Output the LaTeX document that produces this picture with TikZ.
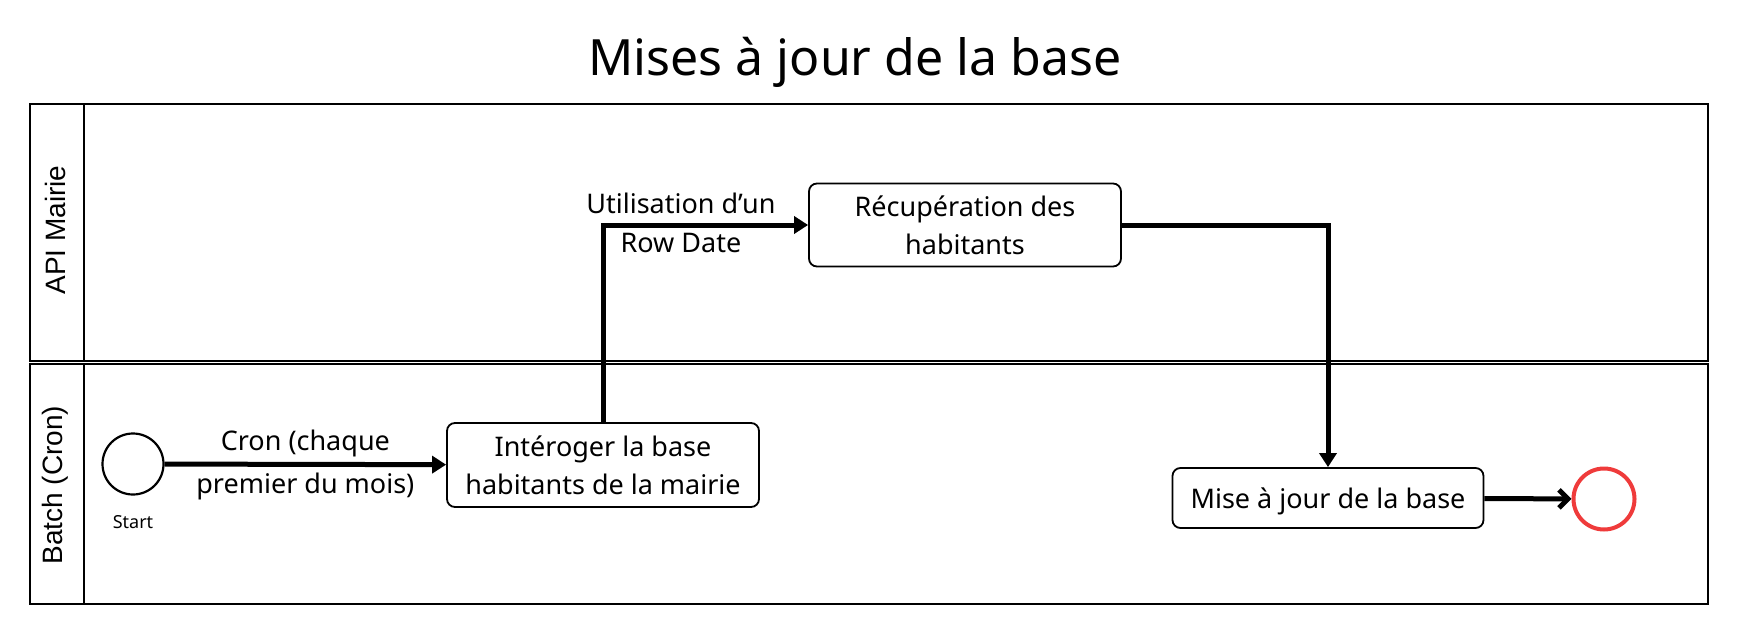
\documentclass[tikz,border=0pt]{standalone}
\usepackage{fontspec}
\setmainfont{Noto Sans}
\newfontfamily\laneFont{Liberation Sans}
\usetikzlibrary{positioning, arrows.meta}
\definecolor{endRed}{RGB}{239,59,59}
\newdimen\boxWidth
\boxWidth=312pt

\begin{document}
\begin{tikzpicture}[
    x=1pt, y=-1pt,
    box/.style={%
      draw,
      rectangle,
      rounded corners=8pt,
      line width=1.8pt,
      minimum width=\boxWidth,
      align=center,
      font=\fontsize{27}{38}\selectfont,
    },
    event/.style={%
      draw,
      circle,
      line width=2.2pt,
      minimum size=61pt,
      inner sep=0pt,
    },
    lane/.style={%
      draw,
      line width=2pt,
    },
    laneLabel/.style={%
      rotate=90,
      font=\laneFont\fontsize{28}{30}\selectfont,
    },
    flow/.style={%
      line width=5pt,
      -{Triangle[length=14pt,width=17pt]},
    },
    flowLabel/.style={%
      font=\fontsize{27}{30}\selectfont,
      inner sep=0pt,
    },
  ]

    \useasboundingbox (0,0) rectangle (1741,632);

    % title
    \node [font=\fontsize{50}{56}\selectfont] (title) at (855,62) {Mises à jour de la base};

    % lanes
    \draw [lane] (30,104) rectangle (1708,361);
    \draw [lane] (30,364) rectangle (1708,604);
    \draw [lane] (84,104) -- (84,361);
    \draw [lane] (84,364) -- (84,604);
    \node [laneLabel] (apiLane) at (55,230) {API Mairie};
    \node [laneLabel] (batchLane) at (55,485) {Batch (Cron)};

    % events and tasks
    \node [event] (start) at (133,464) {};
    \node [font=\fontsize{18}{20}\selectfont, below=16pt of start] (startLbl) {Start};
    \node [box, minimum height=84pt] (query) at (603,465) {Intéroger la base\\habitants de la mairie};
    \node [box, minimum height=83pt] (fetch) at (965,225) {Récupération des\\habitants};
    \node [box, minimum height=60pt, minimum width=311pt, text height=27pt] (update) at (1328,498) {Mise à jour de la base};
    \node [event, draw=endRed, line width=4pt] (end) at (1604,499) {};

    % flows
    \draw [flow] (start) -- (query)
      node [flowLabel, above=5pt, pos=0.5] {Cron (chaque}
      node [flowLabel, below=6pt, pos=0.5] {premier du mois)};
    \draw [flow] (query.north) |- (fetch.west)
      node [flowLabel, above=9pt, pos=0.69] {Utilisation d’un}
      node [flowLabel, below=6pt, pos=0.69] {Row Date};
    \draw [flow] (fetch.east) -| (update.north);
    \draw [line width=5pt, -{Straight Barb[length=9pt,width=18pt]}] (update) -- (end);
\end{tikzpicture}
\end{document}
